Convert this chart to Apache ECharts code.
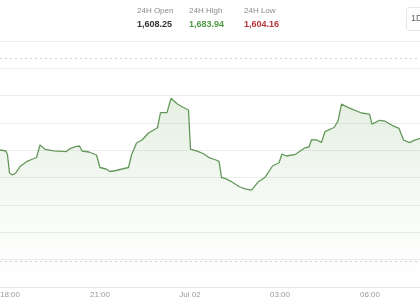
<!DOCTYPE html>
<html>
<head>
<meta charset="utf-8">
<script src="https://cdn.jsdelivr.net/npm/echarts@6/dist/echarts.min.js"></script>
<style>
  html, body { margin: 0; padding: 0; background: #fff; }
  #chart { width: 420px; height: 300px; }
</style>
</head>
<body>
<div id="chart"></div>
<script>
// 顶部统计
const statLabels = ['24H Open', '24H High', '24H Low']
const statValues = ['1,608.25', '1,683.94', '1,604.16']
const statColors = ['#333333', '#4f9a45', '#b8343c']

// 价格走势 (时间, 价格)
const times = [
  '01 17:40', '01 17:52', '01 17:55', '01 17:59',
  '01 18:05', '01 18:12', '01 18:20', '01 18:33',
  '01 18:43', '01 18:53', '01 19:00', '01 19:10',
  '01 19:28', '01 19:52', '01 19:58', '01 20:11',
  '01 20:19', '01 20:24', '01 20:38', '01 20:53',
  '01 21:00', '01 21:12', '01 21:20', '01 21:32',
  '01 21:57', '01 22:03', '01 22:13', '01 22:24',
  '01 22:37', '01 22:55', '01 23:01', '01 23:14',
  '01 23:22', '01 23:34', '01 23:45', '01 23:57',
  '02 00:01', '02 00:17', '02 00:28', '02 00:37',
  '02 00:52', '02 00:58', '02 01:03', '02 01:10',
  '02 01:23', '02 01:40', '02 01:50', '02 02:03',
  '02 02:17', '02 02:30', '02 02:45', '02 02:58',
  '02 03:04', '02 03:13', '02 03:31', '02 03:50',
  '02 03:58', '02 04:03', '02 04:13', '02 04:23',
  '02 04:30', '02 04:48', '02 04:56', '02 05:03',
  '02 05:18', '02 05:43', '02 05:59', '02 06:04',
  '02 06:19', '02 06:30', '02 06:44', '02 06:58',
  '02 07:07', '02 07:19', '02 07:27', '02 07:40'
]
const prices = [
  1639.04, 1638.17, 1634.70, 1619.06,
  1617.32, 1619.32, 1624.70, 1628.87,
  1630.79, 1632.52, 1643.38, 1639.65,
  1638.34, 1637.56, 1639.73, 1641.91,
  1642.52, 1638.17, 1637.30, 1634.70,
  1623.83, 1622.53, 1620.36, 1621.23,
  1623.83, 1634.70, 1645.12, 1647.73,
  1653.81, 1658.42, 1671.45, 1671.45,
  1683.94, 1679.27, 1676.40, 1673.80,
  1639.73, 1637.56, 1635.56, 1632.70,
  1630.35, 1629.22, 1615.15, 1614.45,
  1611.50, 1606.89, 1605.20, 1604.16,
  1611.50, 1615.32, 1625.14, 1628.00,
  1635.56, 1633.83, 1635.30, 1640.95,
  1641.65, 1647.99, 1647.73, 1645.73,
  1654.94, 1658.59, 1664.06, 1678.84,
  1675.71, 1671.19, 1670.15, 1661.46,
  1664.85, 1664.06, 1660.50, 1657.89,
  1647.73, 1645.38, 1647.12, 1649.21
]

// 虚线参考位
const refLines = [1718.5, 1542.6]

// 坐标轴范围 (x: 自 7 月 1 日 00:00 起的分钟数)
const xMin = 900
const xMax = 1900
const xInterval = 180
const yMin = 1520
const yInterval = 23.75
const yMax = 1733.75

// '01 17:40' -> 分钟
const toMinutes = (s) => {
  const [d, hm] = s.split(' ')
  const [h, m] = hm.split(':').map(Number)
  return (Number(d) - 1) * 1440 + h * 60 + m
}

const formatTick = (v) => {
  const day = Math.floor(v / 1440) + 1
  const rest = v % 1440
  if (rest === 0) return 'Jul ' + String(day).padStart(2, '0')
  const h = Math.floor(rest / 60)
  const m = rest % 60
  return String(h).padStart(2, '0') + ':' + String(m).padStart(2, '0')
}

const chart = echarts.init(document.getElementById('chart'))

const statCenters = [157, 209, 264]
const statGraphics = []
statLabels.forEach((label, i) => {
  statGraphics.push({
    type: 'text',
    left: statCenters[i] - 20,
    top: 7,
    style: {
      text: label,
      width: 40,
      align: 'center',
      x: 20,
      fill: '#8a8a8a',
      font: '8px "Liberation Sans", Arial, sans-serif',
    },
  })
  statGraphics.push({
    type: 'text',
    left: statCenters[i] - 20,
    top: 20,
    style: {
      text: statValues[i],
      width: 40,
      align: 'center',
      x: 20,
      fill: statColors[i],
      font: 'bold 9px "Liberation Sans", Arial, sans-serif',
    },
  })
})

const option = {
  animation: false,
  graphic: [
    ...statGraphics,
    {
      type: 'rect',
      left: 406,
      top: 7,
      shape: { width: 30, height: 23, r: 3 },
      style: { fill: '#fff', stroke: '#e6e6e6', lineWidth: 1 },
    },
    {
      type: 'text',
      left: 411,
      top: 14,
      style: {
        text: '1D',
        fill: '#666',
        font: '9px "Liberation Sans", Arial, sans-serif',
      },
    },
  ],
  // 左侧超出画布，使 17:40 落在左边缘
  grid: {
    left: -80,
    right: 0,
    top: 41,
    bottom: 13,
    containLabel: false,
    outerBoundsMode: 'none',
  },
  xAxis: {
    type: 'value',
    min: xMin,
    max: xMax,
    interval: xInterval,
    axisLine: { show: true, lineStyle: { color: '#e6e6e6' } },
    axisTick: { show: false },
    splitLine: { show: false },
    axisLabel: {
      color: '#9a9a9a',
      fontSize: 8,
      margin: 4,
      fontFamily: 'Liberation Sans',
      showMaxLabel: false,
      formatter: formatTick,
    },
  },
  yAxis: {
    type: 'value',
    min: yMin,
    max: yMax,
    interval: yInterval,
    position: 'right',
    axisLine: { show: false },
    axisTick: { show: false },
    axisLabel: { show: false },
    splitLine: { lineStyle: { color: '#ececec', width: 1 } },
  },
  series: [
    {
      type: 'line',
      data: times.map((t, i) => [toMinutes(t), prices[i]]),
      symbol: 'none',
      lineStyle: { color: '#64985a', width: 1.3 },
      areaStyle: {
        origin: 'start',
        color: new echarts.graphic.LinearGradient(0, 0, 0, 1, [
          { offset: 0, color: 'rgba(110, 170, 95, 0.26)' },
          { offset: 0.6, color: 'rgba(110, 170, 95, 0.07)' },
          { offset: 1, color: 'rgba(110, 170, 95, 0)' },
        ]),
      },
      markLine: {
        silent: true,
        symbol: 'none',
        label: { show: false },
        lineStyle: { color: '#cfcfcf', type: [2, 3], width: 1 },
        data: refLines.map((v) => ({ yAxis: v })),
      },
    },
  ],
}

chart.setOption(option)
</script>
</body>
</html>
